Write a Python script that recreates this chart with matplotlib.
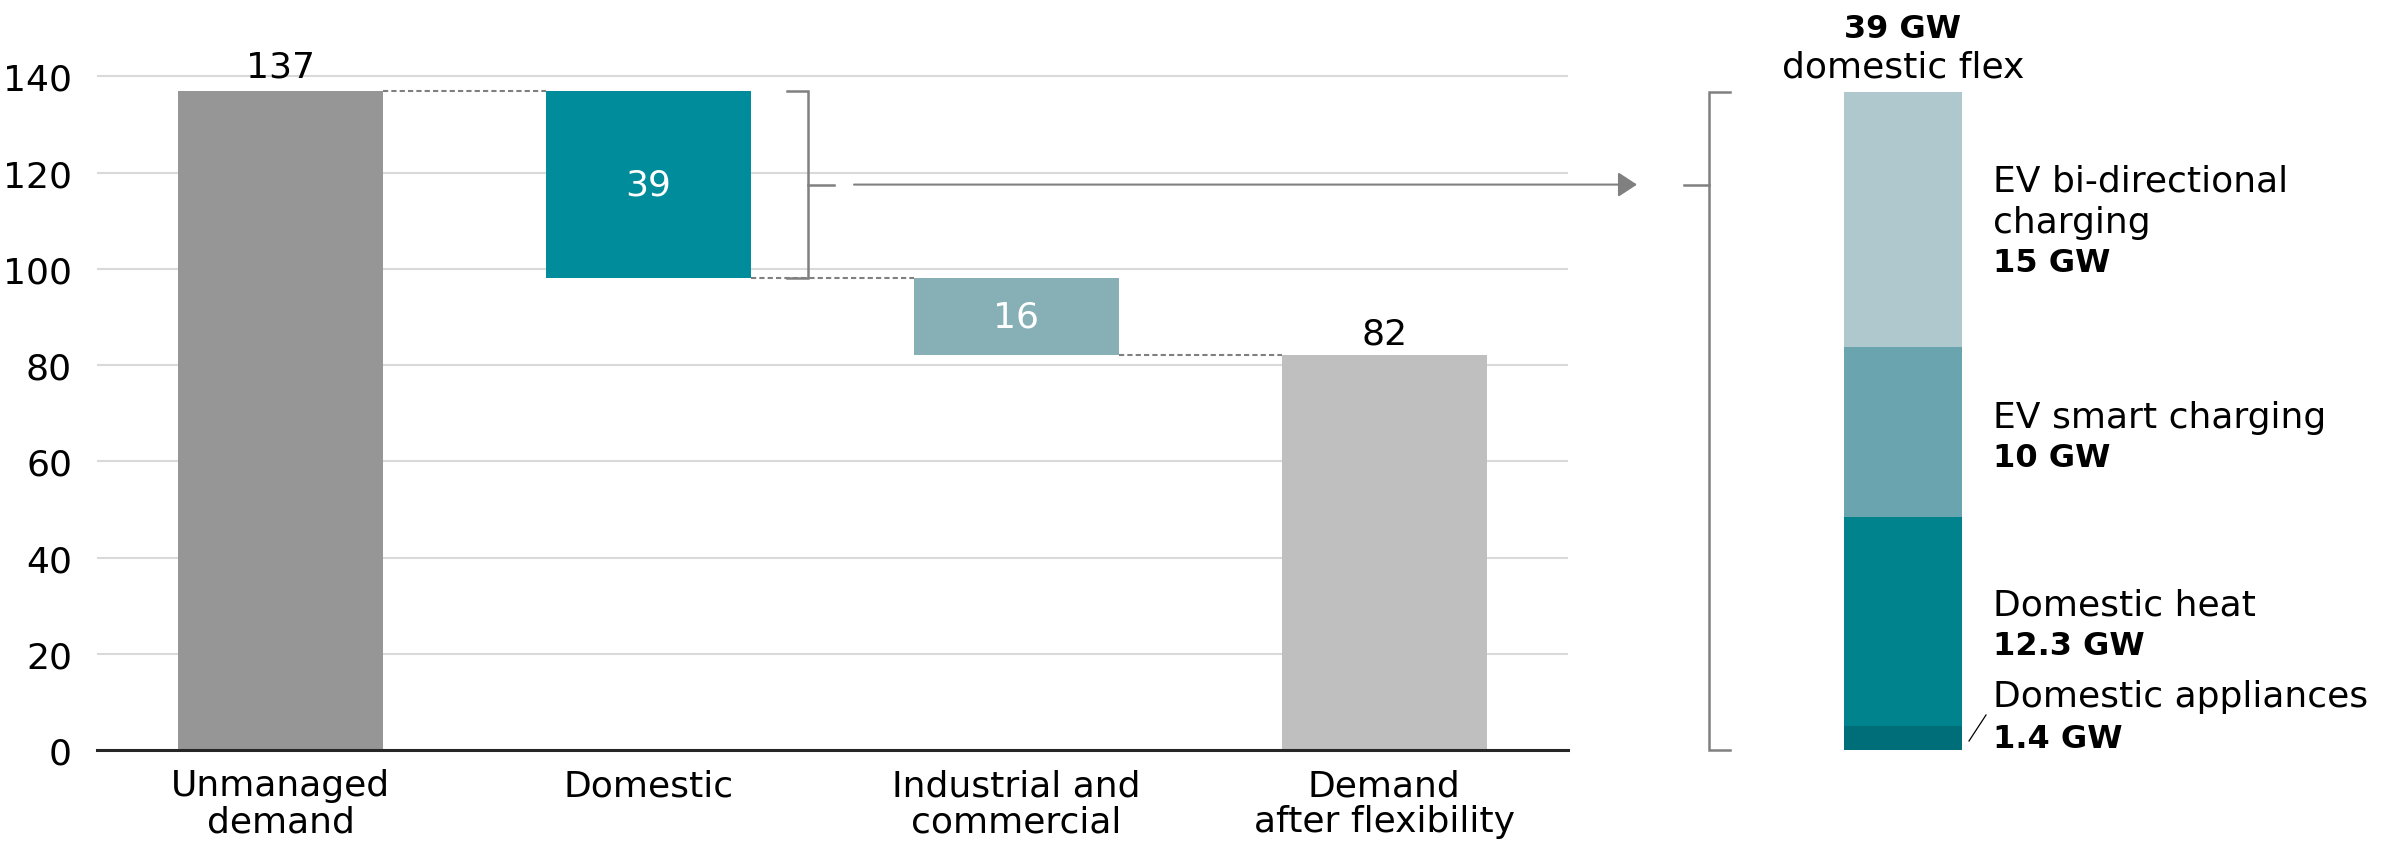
import matplotlib
matplotlib.use('Agg')
import matplotlib.pyplot as plt
import numpy as np

plt.rcParams['font.family'] = ['DejaVu Sans']

# ---------------- data ----------------
categories = ['Unmanaged\ndemand', 'Domestic', 'Industrial and\ncommercial', 'Demand\nafter flexibility']
start_value = 137
reductions = [39, 16]
end_value = 82
bar_colors = ['#969696', '#008C9B', '#86B0B6', '#BFBFBF']
y_ticks = [0, 20, 40, 60, 80, 100, 120, 140]

flex_names = ['Domestic appliances', 'Domestic heat', 'EV smart charging', 'EV bi-directional\ncharging']
flex_values = [1.4, 12.3, 10, 15]
flex_value_labels = ['1.4 GW', '12.3 GW', '10 GW', '15 GW']
flex_colors = ['#006E78', '#00838C', '#6AA4AE', '#AFC8CD']
flex_total_label = '39 GW'
flex_subtitle = 'domestic flex'

# ---------------- figure ----------------
W, H = 2402, 845
fig = plt.figure(figsize=(W / 100, H / 100), dpi=100)

px_per_unit = 4.812
ymax = 150
ax = fig.add_axes([97 / W, (H - 751) / H, (1568 - 97) / W, ymax * px_per_unit / H])

# waterfall geometry
levels = [start_value]
for r in reductions:
    levels.append(levels[-1] - r)
bottoms = [0] + [levels[i + 1] for i in range(len(reductions))] + [0]
heights = [start_value] + reductions + [end_value]
x = np.arange(len(categories))
bw = 0.557

ax.bar(x, heights, bottom=bottoms, width=bw, color=bar_colors, zorder=3)

ax.set_xlim(-0.5, len(categories) - 0.5)
ax.set_ylim(0, ymax)
ax.set_yticks(y_ticks)
ax.set_xticks(x)
ax.set_xticklabels(categories, linespacing=1.08)
ax.yaxis.grid(True, color='#D9D9D9', lw=1.5, zorder=0)
ax.set_axisbelow(True)
for s in ['top', 'right', 'left']:
    ax.spines[s].set_visible(False)
ax.spines['bottom'].set_color('#262626')
ax.spines['bottom'].set_linewidth(2.2)
ax.spines['bottom'].set_zorder(4)
ax.tick_params(axis='both', length=0, labelsize=26, colors='black')
ax.tick_params(axis='y', pad=18)
ax.tick_params(axis='x', pad=13)

# value labels
ax.annotate(str(start_value), xy=(0, start_value), xytext=(0, 10.5), textcoords='offset points',
            ha='center', va='baseline', fontsize=26)
ax.annotate(str(end_value), xy=(x[-1], end_value), xytext=(0, 8.6), textcoords='offset points',
            ha='center', va='baseline', fontsize=26)
for i, r in enumerate(reductions):
    ax.text(x[i + 1], bottoms[i + 1] + r / 2, str(r), color='white', ha='center', va='center',
            fontsize=26, zorder=5)

# dashed connectors
for i in range(len(categories) - 1):
    lv = levels[i] if i < len(levels) else end_value
    ax.plot([x[i] + bw / 2, x[i + 1] - bw / 2], [lv, lv], ls=(0, (2.5, 1.5)), color='#808080',
            lw=1.5, zorder=4)

# ---------------- right stacked bar ----------------
total_flex = sum(flex_values)
axr = fig.add_axes([1844 / W, (H - 751) / H, 118 / W, (751 - 92.6) / H])
cum = np.concatenate([[0], np.cumsum(flex_values)[:-1]])
axr.bar([0] * len(flex_values), flex_values, bottom=cum, width=1, color=flex_colors)
axr.set_xlim(-0.5, 0.5)
axr.set_ylim(0, total_flex)
axr.axis('off')

# ---------------- overlay for brackets / arrow / labels ----------------
ov = fig.add_axes([0, 0, 1, 1])
ov.set_xlim(0, W)
ov.set_ylim(H, 0)
ov.axis('off')
ov.patch.set_alpha(0)


def to_px(a, xx, yy):
    X, Y = a.transData.transform((xx, yy))
    return X, H - Y


gc = '#808080'
blw = 1.8
# left bracket around domestic bar
xr, ytop = to_px(ax, x[1] + bw / 2, levels[0])
_, ybot = to_px(ax, x[1] + bw / 2, levels[1])
_, ymid = to_px(ax, x[1], (levels[0] + levels[1]) / 2)
xv = xr + 57
ov.plot([xv - 21, xv, xv, xv - 21], [ytop, ytop, ybot, ybot], color=gc, lw=blw, solid_joinstyle='miter')
ov.plot([xv, xv + 26], [ymid, ymid], color=gc, lw=blw)

# arrow
ov.annotate('', xy=(1637, ymid), xytext=(xv + 46, ymid),
            arrowprops=dict(arrowstyle='-|>,head_length=0.58,head_width=0.38', mutation_scale=20,
                            color=gc, lw=1.5, shrinkA=0, shrinkB=0))

# right bracket
xl, rtop = to_px(axr, -0.5, total_flex)
_, rbot = to_px(axr, -0.5, 0)
xv2 = xl - 135
ov.plot([xv2 + 21, xv2, xv2, xv2 + 21], [rtop, rtop, rbot, rbot], color=gc, lw=blw, solid_joinstyle='miter')
ov.plot([xv2 - 25, xv2], [ymid, ymid], color=gc, lw=blw)

# header above stacked bar
xc = to_px(axr, 0, 0)[0]
ov.text(xc, 38, flex_total_label, ha='center', va='baseline', fontsize=23, fontweight='bold')
ov.text(xc, 77.5, flex_subtitle, ha='center', va='baseline', fontsize=26)

# segment labels
tx = 1993
label_baselines = [[707, 747.6], [616, 655.5], [428, 467], [192, 233, 272]]
for name, vlab, bl in zip(flex_names, flex_value_labels, label_baselines):
    lines = name.split('\n')
    for ln, yb in zip(lines, bl[:-1]):
        ov.text(tx, yb, ln, ha='left', va='baseline', fontsize=26)
    ov.text(tx, bl[-1], vlab, ha='left', va='baseline', fontsize=23, fontweight='bold')

# small leader for appliances
ov.plot([1969, 1986], [742, 716], color='black', lw=0.9)

fig.savefig('out.png', dpi=100)
